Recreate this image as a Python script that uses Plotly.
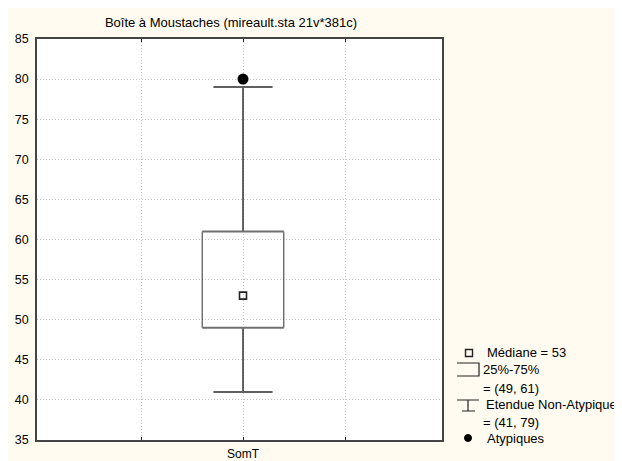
import plotly.graph_objects as go

# ---- data ----
categories = ["SomT"]
medians = [53]
q1_vals = [49]
q3_vals = [61]
whisker_low = [41]
whisker_high = [79]
outliers = [[80]]

title_text = "Boîte à Moustaches (mireault.sta 21v*381c)"
y_ticks = [35, 40, 45, 50, 55, 60, 65, 70, 75, 80, 85]

# ---- page geometry ----
# The page body has an 8px margin; size the figure so it fills the window from there.
OX, OY = 8, 8
W, H = 614, 453

def fx(r):  # window x pixel -> figure pixel
    return r - OX

def fy(r):  # window y pixel -> figure pixel
    return r - OY

L, R, T, B = fx(37), fx(442), fy(39), fy(440)
CREAM = "rgb(255,251,240)"
FONT = "Liberation Sans, Arial, sans-serif"

def px2x(r):
    return (fx(r) - L) / (R - L)

def px2y(r):
    return (B - fy(r)) / (B - T)

box_half = 0.4
cap_half = 0.29

fig = go.Figure()

for i, cat in enumerate(categories):
    xc = i
    q1, q3, med = q1_vals[i], q3_vals[i], medians[i]
    wl, wh = whisker_low[i], whisker_high[i]
    fig.add_trace(go.Scatter(x=[xc, xc, None, xc, xc], y=[q3, wh, None, q1, wl],
                             mode="lines", line=dict(color="black", width=1.2),
                             hoverinfo="skip", showlegend=False))
    fig.add_trace(go.Scatter(x=[xc - cap_half, xc + cap_half, None, xc - cap_half, xc + cap_half],
                             y=[wh, wh, None, wl, wl],
                             mode="lines", line=dict(color="#606060", width=2),
                             hoverinfo="skip", showlegend=False))
    fig.add_trace(go.Scatter(x=[xc - box_half, xc - box_half, None, xc + box_half, xc + box_half],
                             y=[q1, q3, None, q1, q3],
                             mode="lines", line=dict(color="#303030", width=1),
                             hoverinfo="skip", showlegend=False))
    fig.add_trace(go.Scatter(x=[xc - box_half, xc + box_half, None, xc - box_half, xc + box_half],
                             y=[q3, q3, None, q1, q1],
                             mode="lines", line=dict(color="#707070", width=2),
                             hoverinfo="skip", showlegend=False))
    fig.add_trace(go.Scatter(x=[xc], y=[med], mode="markers",
                             marker=dict(symbol="square-open", size=7,
                                         color="#222", line=dict(width=1.6, color="#222")),
                             hoverinfo="skip", showlegend=False))
    fig.add_trace(go.Scatter(x=[xc] * len(outliers[i]), y=outliers[i], mode="markers",
                             marker=dict(symbol="circle", size=11, color="black"),
                             hoverinfo="skip", showlegend=False))

shapes = []
annotations = []

# ---- custom legend ----
lc = "#222"
shapes.append(dict(type="rect", xref="paper", yref="paper",
                   x0=px2x(465.5), x1=px2x(472.5), y0=px2y(356.5), y1=px2y(349.5),
                   line=dict(color=lc, width=1.4), fillcolor="rgba(0,0,0,0)"))
shapes.append(dict(type="path", xref="paper", yref="paper",
                   path=f"M {px2x(457)},{px2y(363)} L {px2x(479)},{px2y(363)} "
                        f"L {px2x(479)},{px2y(376)} L {px2x(457)},{px2y(376)}",
                   line=dict(color=lc, width=1.2)))
shapes.append(dict(type="path", xref="paper", yref="paper",
                   path=f"M {px2x(457)},{px2y(400)} L {px2x(479)},{px2y(400)} "
                        f"M {px2x(468)},{px2y(400)} L {px2x(468)},{px2y(411)} "
                        f"M {px2x(462)},{px2y(411)} L {px2x(475)},{px2y(411)}",
                   line=dict(color=lc, width=1.2)))
shapes.append(dict(type="circle", xref="paper", yref="paper",
                   x0=px2x(464.5), x1=px2x(471.5), y0=px2y(441.5), y1=px2y(434.5),
                   line=dict(color="black", width=1), fillcolor="black"))

legend_rows = [
    (f"Médiane = {medians[0]}", 485, 352),
    ("25%-75%", 481, 369),
    (f"= ({q1_vals[0]}, {q3_vals[0]})", 481, 388),
    ("Etendue Non-Atypique", 484, 404),
    (f"= ({whisker_low[0]}, {whisker_high[0]})", 481, 422),
    ("Atypiques", 485, 438),
]
for txt, rx, ry in legend_rows:
    annotations.append(dict(text=txt, xref="paper", yref="paper",
                            x=px2x(rx), y=px2y(ry), xanchor="left", yanchor="middle",
                            showarrow=False, font=dict(family=FONT, size=13, color="black")))

unit = 102.0
x_lo = -(243 - 37) / unit
x_hi = (442 - 243) / unit

fig.update_layout(
    width=W, height=H,
    margin=dict(l=L, r=W - R, t=T, b=H - B, pad=0, autoexpand=False),
    paper_bgcolor=CREAM,
    plot_bgcolor="white",
    showlegend=False,
    title=dict(text=title_text, x=px2x(231), xref="paper", xanchor="center",
               y=1 - fy(22) / H, yref="container", yanchor="middle",
               font=dict(family=FONT, size=13, color="black")),
    font=dict(family=FONT, size=12, color="black"),
    shapes=shapes,
    annotations=annotations,
    xaxis=dict(range=[x_lo, x_hi], automargin=False,
               tickmode="array", tickvals=[-1, 0, 1], ticktext=["", categories[0], ""],
               showgrid=True, gridcolor="#c4c4c4", griddash="1px,2px", gridwidth=1,
               zeroline=False, showline=True, linecolor="#444", linewidth=1.5,
               mirror="ticks", ticks="inside", ticklen=3, tickcolor="#222",
               ticklabelstandoff=2,
               tickfont=dict(family=FONT, size=12, color="black"), fixedrange=True),
    yaxis=dict(range=[35, 85], automargin=False, tickmode="array", tickvals=y_ticks,
               showgrid=True, gridcolor="#c4c4c4", griddash="1px,2px", gridwidth=1,
               zeroline=False, showline=True, linecolor="#444", linewidth=1.5,
               mirror=True, ticks="", ticklabelstandoff=4,
               tickfont=dict(family=FONT, size=12.5, color="black"), fixedrange=True),
)

fig.write_html("out.html")
